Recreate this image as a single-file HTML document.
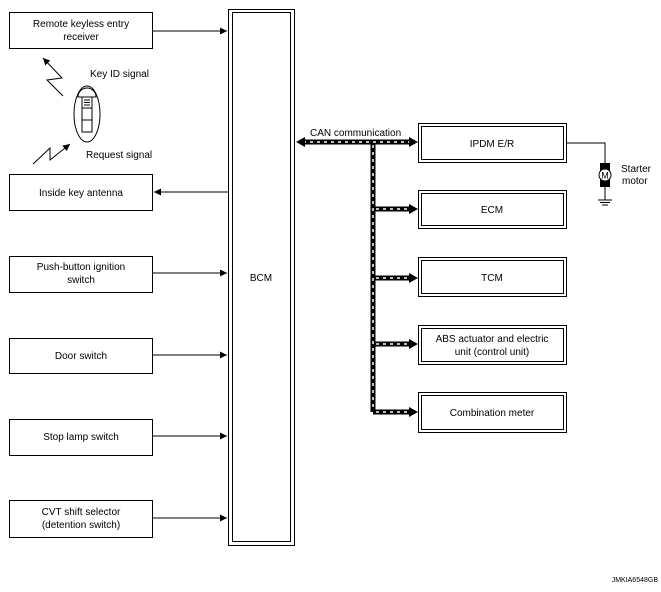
<!DOCTYPE html>
<html><head><style>body{margin:0;background:#fff}svg{display:block}text{font-family:"Liberation Sans",sans-serif;font-size:10px;fill:#000}</style></head><body>
<svg width="661" height="592" viewBox="0 0 661 592" xmlns="http://www.w3.org/2000/svg">
<defs><marker id="a" markerWidth="8" markerHeight="8" refX="7" refY="4" orient="auto" markerUnits="userSpaceOnUse"><path d="M0,0.5 L7,4 L0,7.5z" fill="#000"/></marker></defs>
<g fill="none" stroke="#000" stroke-width="1">
<rect x="9.5" y="12.5" width="143" height="36"/>
<rect x="9.5" y="174.5" width="143" height="36"/>
<rect x="9.5" y="256.5" width="143" height="36"/>
<rect x="9.5" y="338.5" width="143" height="35"/>
<rect x="9.5" y="419.5" width="143" height="36"/>
<rect x="9.5" y="500.5" width="143" height="37"/>
<rect x="228.5" y="9.5" width="66" height="536"/>
<rect x="232.5" y="12.5" width="58" height="529"/>
</g>
<g fill="none" stroke="#000">
<rect x="418.5" y="123.5" width="148" height="39"/><rect x="421.5" y="126.5" width="142" height="33"/>
<rect x="418.5" y="190.5" width="148" height="38"/><rect x="421.5" y="193.5" width="142" height="32"/>
<rect x="418.5" y="257.5" width="148" height="39"/><rect x="421.5" y="260.5" width="142" height="33"/>
<rect x="418.5" y="325.5" width="148" height="39"/><rect x="421.5" y="328.5" width="142" height="33"/>
<rect x="418.5" y="392.5" width="148" height="40"/><rect x="421.5" y="395.5" width="142" height="34"/>
</g>
<g stroke="#000" stroke-width="1" fill="none">
<line x1="152" y1="31" x2="227" y2="31" marker-end="url(#a)"/>
<line x1="228" y1="192" x2="154" y2="192" marker-end="url(#a)"/>
<line x1="152" y1="273" x2="227" y2="273" marker-end="url(#a)"/>
<line x1="152" y1="355" x2="227" y2="355" marker-end="url(#a)"/>
<line x1="152" y1="436" x2="227" y2="436" marker-end="url(#a)"/>
<line x1="152" y1="518" x2="227" y2="518" marker-end="url(#a)"/>
<polyline points="63,96 47,80 62,78 43,58" marker-end="url(#a)"/>
<polyline points="33,164 50,148 50,160 70,144" marker-end="url(#a)"/>
<polyline points="567,143 605,143 605,163"/>
<line x1="605" y1="187" x2="605" y2="200"/>
<line x1="598" y1="200" x2="612" y2="200"/><line x1="600" y1="202.5" x2="610" y2="202.5"/><line x1="602" y1="205" x2="608" y2="205"/>
<ellipse cx="87" cy="114" rx="13" ry="28"/>
<path d="M78,97 A9,9 0 0 1 96,97 Z"/>
<rect x="82" y="97" width="10" height="35"/>
<line x1="82" y1="108" x2="92" y2="108"/><line x1="82" y1="120" x2="92" y2="120"/>
<line x1="84" y1="100" x2="90" y2="100"/><line x1="84" y1="102.5" x2="90" y2="102.5"/><line x1="84" y1="105" x2="90" y2="105"/>
</g>
<rect x="600" y="163" width="10" height="24" fill="#000"/>
<circle cx="605" cy="175" r="6" fill="#fff" stroke="#000"/>
<text x="605" y="178.5" text-anchor="middle" style="font-size:9px">M</text>
<g fill="none" stroke-linecap="butt">
<path d="M303,142 H410 M373,142 V412 M373,209 H410 M373,278 H410 M373,344 H410 M373,412 H410" stroke="#000" stroke-width="5"/>
<path d="M303,142 H410 M373,145 V410 M376,209 H410 M376,278 H410 M376,344 H410 M376,412 H410" stroke="#fff" stroke-width="1.5" stroke-dasharray="3,4"/>
</g>
<path d="M296,142 L305,137 L305,147z M418,142 L409,137 L409,147z M418,209 L409,204 L409,214z M418,278 L409,273 L409,283z M418,344 L409,339 L409,349z M418,412 L409,407 L409,417z" fill="#000"/>
<text x="81" y="27" text-anchor="middle">Remote keyless entry</text>
<text x="81" y="40" text-anchor="middle">receiver</text>
<text x="90" y="77">Key ID signal</text>
<text x="86" y="158">Request signal</text>
<text x="81" y="196" text-anchor="middle">Inside key antenna</text>
<text x="81" y="270" text-anchor="middle">Push-button ignition</text>
<text x="81" y="283" text-anchor="middle">switch</text>
<text x="81" y="359" text-anchor="middle">Door switch</text>
<text x="81" y="440" text-anchor="middle">Stop lamp switch</text>
<text x="81" y="515" text-anchor="middle">CVT shift selector</text>
<text x="81" y="528" text-anchor="middle">(detention switch)</text>
<text x="261" y="281" text-anchor="middle">BCM</text>
<text x="310" y="136">CAN communication</text>
<text x="492" y="147" text-anchor="middle">IPDM E/R</text>
<text x="492" y="213" text-anchor="middle">ECM</text>
<text x="492" y="281" text-anchor="middle">TCM</text>
<text x="492" y="342" text-anchor="middle">ABS actuator and electric</text>
<text x="492" y="355" text-anchor="middle">unit (control unit)</text>
<text x="492" y="416" text-anchor="middle">Combination meter</text>
<text x="621" y="172">Starter</text>
<text x="622" y="184">motor</text>
<text x="658" y="582" text-anchor="end" style="font-size:7px">JMKIA6548GB</text>
</svg>
</body></html>
